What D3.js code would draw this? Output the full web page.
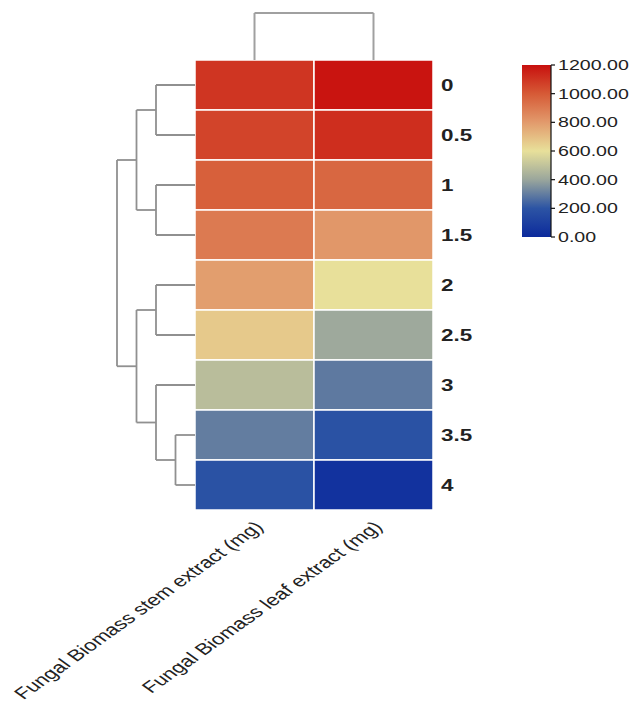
<!DOCTYPE html>
<html>
<head>
<meta charset="utf-8">
<script src="https://cdn.jsdelivr.net/npm/d3@7"></script>
<style>
  body { margin: 0; background: #fff; }
  text { font-family: "Liberation Sans", Arial, sans-serif; fill: #222; }
</style>
</head>
<body>
<div id="container"></div>
<script>
let w = 633;
let h = 702;

// rows (concentrations) and the two extract columns
let rows = ["0", "0.5", "1", "1.5", "2", "2.5", "3", "3.5", "4"];
let columns = ["Fungal Biomass stem extract (mg)", "Fungal Biomass leaf extract (mg)"];

// values
let stemValues = [1100, 1060, 980, 900, 790, 665, 480, 300, 190];
let leafValues = [1190, 1120, 960, 810, 600, 410, 290, 190, 40];

// colour key
let colorStops = [0, 200, 400, 600, 800, 1000, 1200];
let colorRange = ["#0c2a9c", "#2c54a4", "#9aa69c", "#e8e09a", "#e29a6c", "#d65a36", "#c8100e"];
let legendTicks = [0, 200, 400, 600, 800, 1000, 1200];

// clustering trees (merge heights)
let rowTree = {h: 4, children: [
  {h: 3, children: [
    {h: 2, children: [{name: "0"}, {name: "0.5"}]},
    {h: 2, children: [{name: "1"}, {name: "1.5"}]}
  ]},
  {h: 3, children: [
    {h: 2, children: [{name: "2"}, {name: "2.5"}]},
    {h: 2, children: [{name: "3"}, {h: 1, children: [{name: "3.5"}, {name: "4"}]}]}
  ]}
]};
let colTree = {h: 1, children: [{name: columns[0]}, {name: columns[1]}]};

// the picture is stretched sideways, text too
let stretch = 1.4;

let viz = d3.select("#container")
  .append("svg")
    .attr("width", w)
    .attr("height", h)
;

let xScale = d3.scaleBand().domain(columns).range([195, 433]);
let yScale = d3.scaleBand().domain(rows).range([60, 510]);
let color = d3.scaleLinear().domain(colorStops).range(colorRange).interpolate(d3.interpolateRgb);

// cells
let cells = [];
rows.forEach(function(r, i){
  cells.push({row: r, col: columns[0], value: stemValues[i]});
  cells.push({row: r, col: columns[1], value: leafValues[i]});
});

viz.append("g").selectAll("rect").data(cells).enter()
  .append("rect")
    .attr("x", function(d){ return xScale(d.col); })
    .attr("y", function(d){ return yScale(d.row); })
    .attr("width", xScale.bandwidth())
    .attr("height", yScale.bandwidth())
    .attr("fill", function(d){ return color(d.value); })
    .attr("stroke", "#fff")
    .attr("stroke-width", 1.5)
;

// row dendrogram
let rowH = d3.scaleLinear().domain([0, 4]).range([195, 117]);
let rowRoot = d3.hierarchy(rowTree);
rowRoot.eachAfter(function(n){
  if(!n.children){
    n.pos = yScale(n.data.name) + yScale.bandwidth() / 2;
    n.hh = 0;
  }else{
    n.pos = d3.mean(n.children, function(c){ return c.pos; });
    n.hh = n.data.h;
  }
});
let rowSegs = [];
rowRoot.each(function(n){
  if(!n.children) return;
  let x = rowH(n.hh);
  rowSegs.push([x, n.children[0].pos, x, n.children[1].pos]);
  n.children.forEach(function(c){
    rowSegs.push([x, c.pos, rowH(c.hh), c.pos]);
  });
});
viz.append("g").selectAll("line").data(rowSegs).enter()
  .append("line")
    .attr("x1", function(d){ return d[0]; })
    .attr("y1", function(d){ return d[1]; })
    .attr("x2", function(d){ return d[2]; })
    .attr("y2", function(d){ return d[3]; })
    .attr("stroke", "#909090")
    .attr("stroke-width", 1.8)
;

// column dendrogram
let colH = d3.scaleLinear().domain([0, 1]).range([60, 13]);
let colRoot = d3.hierarchy(colTree);
colRoot.eachAfter(function(n){
  if(!n.children){
    n.pos = xScale(n.data.name) + xScale.bandwidth() / 2;
    n.hh = 0;
  }else{
    n.pos = d3.mean(n.children, function(c){ return c.pos; });
    n.hh = n.data.h;
  }
});
let colSegs = [];
colRoot.each(function(n){
  if(!n.children) return;
  let y = colH(n.hh);
  colSegs.push([n.children[0].pos, y, n.children[1].pos, y]);
  n.children.forEach(function(c){
    colSegs.push([c.pos, y, c.pos, colH(c.hh)]);
  });
});
viz.append("g").selectAll("line").data(colSegs).enter()
  .append("line")
    .attr("x1", function(d){ return d[0]; })
    .attr("y1", function(d){ return d[1]; })
    .attr("x2", function(d){ return d[2]; })
    .attr("y2", function(d){ return d[3]; })
    .attr("stroke", "#a0a0a0")
    .attr("stroke-width", 2)
;

// row labels
viz.append("g").selectAll("text").data(rows).enter()
  .append("text")
    .attr("transform", function(d){
      return "translate(441," + (yScale(d) + yScale.bandwidth() / 2) + ") scale(" + stretch + ",1)";
    })
    .attr("dy", "0.36em")
    .attr("font-size", 16)
    .attr("font-weight", "bold")
    .text(function(d){ return d; })
;

// column labels
viz.append("g").selectAll("text").data(columns).enter()
  .append("text")
    .attr("transform", function(d){
      return "translate(" + (xScale(d) + xScale.bandwidth() / 2 + 10) + ",528) scale(" + stretch + ",1) rotate(-45)";
    })
    .attr("text-anchor", "end")
    .attr("font-size", 16)
    .text(function(d){ return d; })
;

// colour key
let defs = viz.append("defs");
let grad = defs.append("linearGradient")
  .attr("id", "keygrad")
  .attr("x1", 0).attr("y1", 1).attr("x2", 0).attr("y2", 0);
grad.selectAll("stop").data(colorStops).enter()
  .append("stop")
    .attr("offset", function(d){ return d / 1200; })
    .attr("stop-color", function(d){ return color(d); })
;

let keyScale = d3.scaleLinear().domain([0, 1200]).range([237, 65]);
viz.append("rect")
  .attr("x", 522)
  .attr("y", 65)
  .attr("width", 29)
  .attr("height", 172)
  .attr("fill", "url(#keygrad)")
;
let keyAxis = viz.append("g").attr("transform", "translate(551,0)");
keyAxis.append("line")
  .attr("x1", 0).attr("x2", 0)
  .attr("y1", keyScale(0)).attr("y2", keyScale(1200))
  .attr("stroke", "#111").attr("stroke-width", 1.2);
let tk = keyAxis.selectAll(".tk").data(legendTicks).enter()
  .append("g")
    .attr("class", "tk")
    .attr("transform", function(d){ return "translate(0," + keyScale(d) + ")"; });
tk.append("line").attr("x1", 0).attr("x2", 4).attr("stroke", "#111").attr("stroke-width", 1.2);
tk.append("text")
  .attr("transform", "translate(7,0) scale(" + stretch + ",1)")
  .attr("dy", "0.36em")
  .attr("font-size", 14)
  .text(function(d){ return d3.format(".2f")(d); })
;
</script>
</body>
</html>
